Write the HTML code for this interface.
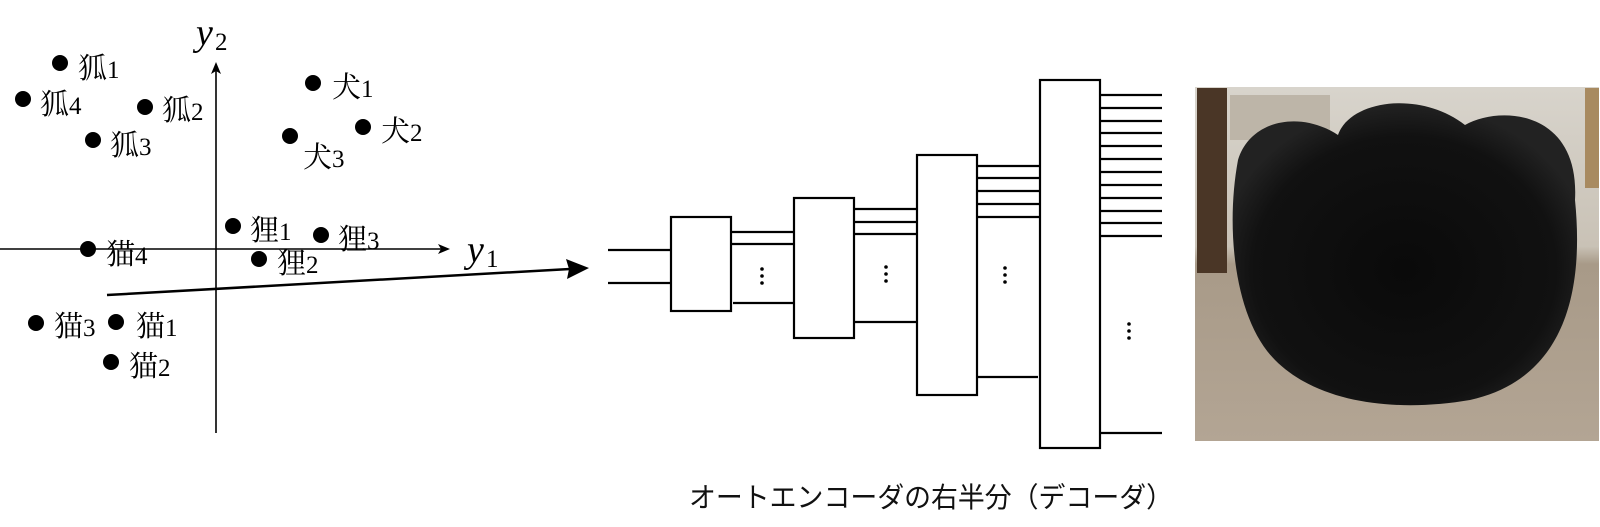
<!DOCTYPE html>
<html><head><meta charset="utf-8"><style>
html,body{margin:0;padding:0;background:#fff;width:1600px;height:527px;overflow:hidden}
svg{display:block}
.l{font-family:"Liberation Serif","Noto Serif CJK SC",serif;font-size:29px;fill:#000}
.d{font-size:25px}
</style></head><body>
<svg width="1600" height="527" viewBox="0 0 1600 527" xmlns="http://www.w3.org/2000/svg">
<defs>
<radialGradient id="fur" cx="50%" cy="55%" r="55%">
<stop offset="0" stop-color="#0a0a0a"/><stop offset="0.8" stop-color="#111"/><stop offset="1" stop-color="#222"/>
</radialGradient>
<linearGradient id="bg" x1="0" y1="0" x2="0" y2="1">
<stop offset="0" stop-color="#d8d4cc"/><stop offset="0.45" stop-color="#c9c2b6"/><stop offset="0.5" stop-color="#a89a88"/><stop offset="1" stop-color="#b3a594"/>
</linearGradient>
</defs>
<g stroke="#000" stroke-width="1.6" fill="none">
<line x1="216" y1="68" x2="216" y2="433"/>
<line x1="0" y1="249" x2="444" y2="249"/>
</g>
<polygon points="216,62 211,74 216,71 221,74" fill="#000"/>
<polygon points="450,249 438,244 441,249 438,254" fill="#000"/>
<text x="196" y="45" class="l" style="font-size:38px;font-style:italic">y</text><text x="215" y="50" class="l" style="font-size:25px">2</text>
<text x="467" y="262" class="l" style="font-size:38px;font-style:italic">y</text><text x="486" y="267" class="l" style="font-size:25px">1</text>
<line x1="107" y1="295" x2="570" y2="269" stroke="#000" stroke-width="2.5"/>
<polygon points="589,268 566,259 569,269 567,279" fill="#000"/>
<g fill="#000">
<circle cx="60" cy="63" r="8"/><circle cx="23" cy="99" r="8"/><circle cx="145" cy="107" r="8"/><circle cx="93" cy="140" r="8"/>
<circle cx="313" cy="83" r="8"/><circle cx="363" cy="127" r="8"/><circle cx="290" cy="136" r="8"/>
<circle cx="233" cy="226" r="8"/><circle cx="321" cy="235" r="8"/><circle cx="259" cy="259" r="8"/>
<circle cx="88" cy="249" r="8"/><circle cx="36" cy="323" r="8"/><circle cx="116" cy="322" r="8"/><circle cx="111" cy="362" r="8"/>
</g>
<g class="l">
<text x="78" y="78">狐<tspan class="d">1</tspan></text>
<text x="40" y="114">狐<tspan class="d">4</tspan></text>
<text x="162" y="120">狐<tspan class="d">2</tspan></text>
<text x="110" y="155">狐<tspan class="d">3</tspan></text>
<text x="332" y="97">犬<tspan class="d">1</tspan></text>
<text x="381" y="141">犬<tspan class="d">2</tspan></text>
<text x="303" y="167">犬<tspan class="d">3</tspan></text>
<text x="250" y="240">狸<tspan class="d">1</tspan></text>
<text x="338" y="249">狸<tspan class="d">3</tspan></text>
<text x="277" y="273">狸<tspan class="d">2</tspan></text>
<text x="106" y="264">猫<tspan class="d">4</tspan></text>
<text x="54" y="336">猫<tspan class="d">3</tspan></text>
<text x="136" y="336">猫<tspan class="d">1</tspan></text>
<text x="129" y="376">猫<tspan class="d">2</tspan></text>
</g>
<g stroke="#000" stroke-width="2.2" fill="#fff">
<line x1="608" y1="250" x2="671" y2="250"/><line x1="608" y1="283" x2="671" y2="283"/>
<rect x="671" y="217" width="60" height="94"/>
<line x1="731" y1="232" x2="794" y2="232"/><line x1="731" y1="244" x2="794" y2="244"/><line x1="733" y1="303" x2="794" y2="303"/>
<rect x="794" y="198" width="60" height="140"/>
<line x1="854" y1="209" x2="917" y2="209"/><line x1="854" y1="222" x2="917" y2="222"/><line x1="854" y1="234" x2="917" y2="234"/><line x1="854" y1="322" x2="917" y2="322"/>
<rect x="917" y="155" width="60" height="240"/>
<line x1="977" y1="166" x2="1040" y2="166"/><line x1="977" y1="178" x2="1040" y2="178"/><line x1="977" y1="191" x2="1040" y2="191"/><line x1="977" y1="204" x2="1040" y2="204"/><line x1="977" y1="217" x2="1040" y2="217"/><line x1="977" y1="377" x2="1038" y2="377"/>
<rect x="1040" y="80" width="60" height="368"/>
<line x1="1100" y1="95" x2="1162" y2="95"/><line x1="1100" y1="108" x2="1162" y2="108"/><line x1="1100" y1="121" x2="1162" y2="121"/><line x1="1100" y1="133" x2="1162" y2="133"/><line x1="1100" y1="146" x2="1162" y2="146"/><line x1="1100" y1="159" x2="1162" y2="159"/><line x1="1100" y1="172" x2="1162" y2="172"/><line x1="1100" y1="185" x2="1162" y2="185"/><line x1="1100" y1="198" x2="1162" y2="198"/><line x1="1100" y1="211" x2="1162" y2="211"/><line x1="1100" y1="223" x2="1162" y2="223"/><line x1="1100" y1="236" x2="1162" y2="236"/><line x1="1100" y1="433" x2="1162" y2="433"/>
</g>
<g fill="#000">
<circle cx="762" cy="269" r="1.8"/><circle cx="762" cy="276" r="1.8"/><circle cx="762" cy="283" r="1.8"/>
<circle cx="886" cy="267" r="1.8"/><circle cx="886" cy="274" r="1.8"/><circle cx="886" cy="281" r="1.8"/>
<circle cx="1005" cy="268" r="1.8"/><circle cx="1005" cy="275" r="1.8"/><circle cx="1005" cy="282" r="1.8"/>
<circle cx="1129" cy="324" r="1.8"/><circle cx="1129" cy="331" r="1.8"/><circle cx="1129" cy="338" r="1.8"/>
</g>
<rect x="1195" y="87" width="404" height="354" fill="url(#bg)"/>
<rect x="1197" y="88" width="30" height="185" fill="#4a3626"/>
<rect x="1230" y="95" width="100" height="45" fill="#bdb5a8"/>
<rect x="1585" y="88" width="14" height="100" fill="#a88a60"/>
<path d="M1238,160 C1250,120 1300,110 1338,135 C1350,100 1420,90 1465,125 C1500,105 1580,110 1575,200 C1585,300 1560,380 1470,400 C1400,412 1320,405 1275,360 C1235,320 1225,230 1238,160 Z" fill="url(#fur)"/>
<text x="689" y="507" textLength="484" lengthAdjust="spacingAndGlyphs" style="font-family:'Noto Sans CJK JP',sans-serif;font-size:28px;fill:#111">オートエンコーダの右半分（デコーダ）</text>
</svg>
</body></html>
